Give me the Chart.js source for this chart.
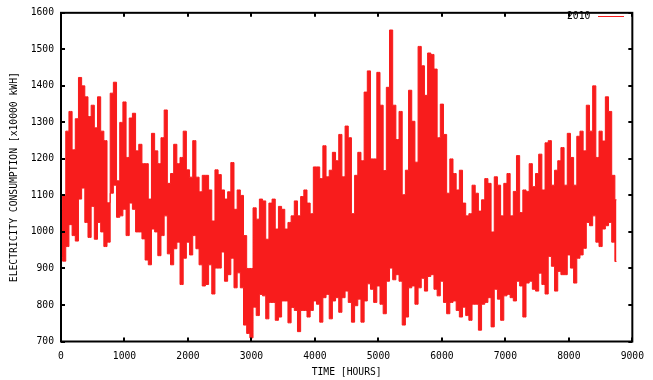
<!DOCTYPE html>
<html>
<head>
<meta charset="utf-8">
<script src="https://cdn.jsdelivr.net/npm/chart.js@4/dist/chart.umd.min.js"></script>
<style>
  html, body { margin: 0; padding: 0; background: #fff; }
  #wrap { position: relative; width: 653px; height: 380px; }
  #legend { position: absolute; left: 567px; top: 10px; font: 9.7px "DejaVu Sans Mono", monospace; line-height: 11px; color: #000; white-space: nowrap; }
  #legend .ln { display: inline-block; width: 26px; height: 0; border-top: 1px solid rgb(248,28,28); vertical-align: middle; margin-left: 8px; }
</style>
</head>
<body>
<div id="wrap">
  <canvas id="c" width="653" height="380"></canvas>
  <div id="legend"><span>2010</span><span class="ln"></span></div>
</div>
<script>
// Sample grid (hours) and envelope of hourly consumption
const hours = [0,50,100,150,200,250,300,350,400,450,500,550,600,650,700,750,800,850,900,950,
1000,1050,1100,1150,1200,1250,1300,1350,1400,1450,1500,1550,1600,1650,1700,1750,1800,1850,1900,1950,
2000,2050,2100,2150,2200,2250,2300,2350,2400,2450,2500,2550,2600,2650,2700,2750,2800,2850,2900,2950,
3000,3050,3100,3150,3200,3250,3300,3350,3400,3450,3500,3550,3600,3650,3700,3750,3800,3850,3900,3950,
4000,4050,4100,4150,4200,4250,4300,4350,4400,4450,4500,4550,4600,4650,4700,4750,4800,4850,4900,4950,
5000,5050,5100,5150,5200,5250,5300,5350,5400,5450,5500,5550,5600,5650,5700,5750,5800,5850,5900,5950,
6000,6050,6100,6150,6200,6250,6300,6350,6400,6450,6500,6550,6600,6650,6700,6750,6800,6850,6900,6950,
7000,7050,7100,7150,7200,7250,7300,7350,7400,7450,7500,7550,7600,7650,7700,7750,7800,7850,7900,7950,
8000,8050,8100,8150,8200,8250,8300,8350,8400,8450,8500,8550,8600,8650,8700,8750];

const consumptionHigh = [1060,1100,1276,1330,1225,1310,1423,1400,1370,1316,1347,1285,1370,1276,1250,1080,1380,1410,1140,1300,
1356,1204,1312,1325,1222,1240,1187,1187,1090,1270,1222,1187,1258,1334,1133,1160,1240,1187,1204,1276,
1170,1150,1250,1150,1110,1155,1155,1115,1030,1170,1157,1115,1090,1110,1190,1062,1115,1100,990,900,
900,1066,1035,1090,1085,980,1079,1090,1008,1070,1062,1008,1026,1044,1085,1044,1097,1115,1079,1050,
1178,1178,1146,1236,1151,1169,1218,1195,1267,1151,1290,1258,1050,1155,1218,1195,1383,1441,1200,1200,
1437,1347,1168,1396,1553,1347,1253,1330,1102,1169,1388,1303,1191,1508,1455,1374,1490,1486,1446,1258,
1350,1267,1106,1200,1160,1115,1169,1079,1044,1050,1128,1106,1057,1088,1146,1133,1000,1151,1128,1044,
1133,1160,1044,1111,1209,1053,1115,1111,1187,1124,1160,1213,1115,1244,1250,1128,1169,1195,1231,1128,
1270,1204,1128,1262,1276,1222,1347,1276,1400,1204,1276,1249,1370,1330,1155,1088];

const consumptionLow = [930,920,960,1020,990,975,1090,1120,1026,985,1070,980,1026,1000,960,972,1106,1128,1040,1044,
1062,990,1079,1062,1000,1000,981,923,910,1008,1000,935,990,1044,940,910,954,972,856,928,
972,937,990,954,910,852,856,910,830,901,901,945,865,883,928,847,888,847,745,722,
710,794,771,829,825,762,807,807,758,767,811,811,751,793,785,727,785,785,767,785,
811,802,753,820,829,762,811,820,780,820,838,807,753,798,816,753,811,858,843,807,
852,802,776,865,901,869,883,865,745,767,847,852,802,847,873,838,878,883,843,825,
865,807,776,807,811,785,767,794,771,758,802,802,731,802,807,820,740,843,816,758,
825,829,820,811,865,852,767,860,865,843,838,887,856,830,933,906,838,892,883,883,
937,901,860,928,937,955,1026,1017,1044,972,960,1008,1017,1026,972,919];

const xTickValues = [0,1000,2000,3000,4000,5000,6000,7000,8000,9000];
const yTickValues = [700,800,900,1000,1100,1200,1300,1400,1500,1600];
const seriesLabel = '2010';
const RED = 'rgb(248,28,28)';
const FONT = '"DejaVu Sans Mono", monospace';
const FS = 9.7;

const highPts = hours.map((h, i) => ({x: h, y: consumptionHigh[i]}));
const lowPts = hours.map((h, i) => ({x: h, y: consumptionLow[i]}));

const framePlugin = {
  id: 'frame',
  afterDatasetsDraw(chart) {
    const {ctx, chartArea: {left, right, top, bottom}, scales: {x, y}} = chart;
    ctx.save();
    ctx.strokeStyle = '#000';
    ctx.lineWidth = 2;
    ctx.strokeRect(left, top, right - left, bottom - top);
    const L = 4;
    ctx.beginPath();
    xTickValues.forEach(v => {
      const px = Math.round(x.getPixelForValue(v));
      ctx.moveTo(px, bottom); ctx.lineTo(px, bottom - L);
      ctx.moveTo(px, top); ctx.lineTo(px, top + L);
    });
    yTickValues.forEach(v => {
      const py = Math.round(y.getPixelForValue(v));
      ctx.moveTo(left, py); ctx.lineTo(left + L, py);
      ctx.moveTo(right, py); ctx.lineTo(right - L, py);
    });
    ctx.stroke();
    ctx.restore();
  }
};

new Chart(document.getElementById('c'), {
  type: 'line',
  data: {
    datasets: [
      { label: seriesLabel, data: highPts, borderColor: RED, backgroundColor: RED, borderWidth: 1,
        pointRadius: 0, stepped: 'middle', fill: '+1' },
      { label: seriesLabel + ' low', data: lowPts, borderColor: RED, backgroundColor: RED, borderWidth: 1,
        pointRadius: 0, stepped: 'middle', fill: false }
    ]
  },
  options: {
    responsive: false,
    animation: false,
    events: [],
    layout: { padding: { left: 0, right: 17, top: 5.5, bottom: 0 } },
    plugins: { legend: { display: false }, tooltip: { enabled: false } },
    scales: {
      x: {
        type: 'linear', min: 0, max: 9000,
        afterBuildTicks: s => { s.ticks = xTickValues.map(v => ({value: v})); },
        afterFit: s => { s.height = 38.5; },
        grid: { display: false, drawTicks: false },
        border: { display: false },
        ticks: { color: '#000', font: { family: FONT, size: FS }, padding: 9, maxRotation: 0, autoSkip: false,
                 callback: v => String(v) },
        title: { display: true, text: 'TIME [HOURS]', color: '#000', font: { family: FONT, size: FS }, padding: { top: 0, bottom: 1.7 } }
      },
      y: {
        type: 'linear', min: 700, max: 1600,
        afterBuildTicks: s => { s.ticks = yTickValues.map(v => ({value: v})); },
        afterFit: s => { s.width = 61; },
        grid: { display: false, drawTicks: false },
        border: { display: false },
        ticks: { color: '#000', font: { family: FONT, size: FS }, padding: 7, autoSkip: false,
                 callback: v => String(v) },
        title: { display: true, text: 'ELECTRICITY CONSUMPTION [x10000 kWH]', color: '#000', font: { family: FONT, size: FS }, padding: { top: 8.7, bottom: 0 } }
      }
    }
  },
  plugins: [framePlugin]
});
</script>
</body>
</html>
